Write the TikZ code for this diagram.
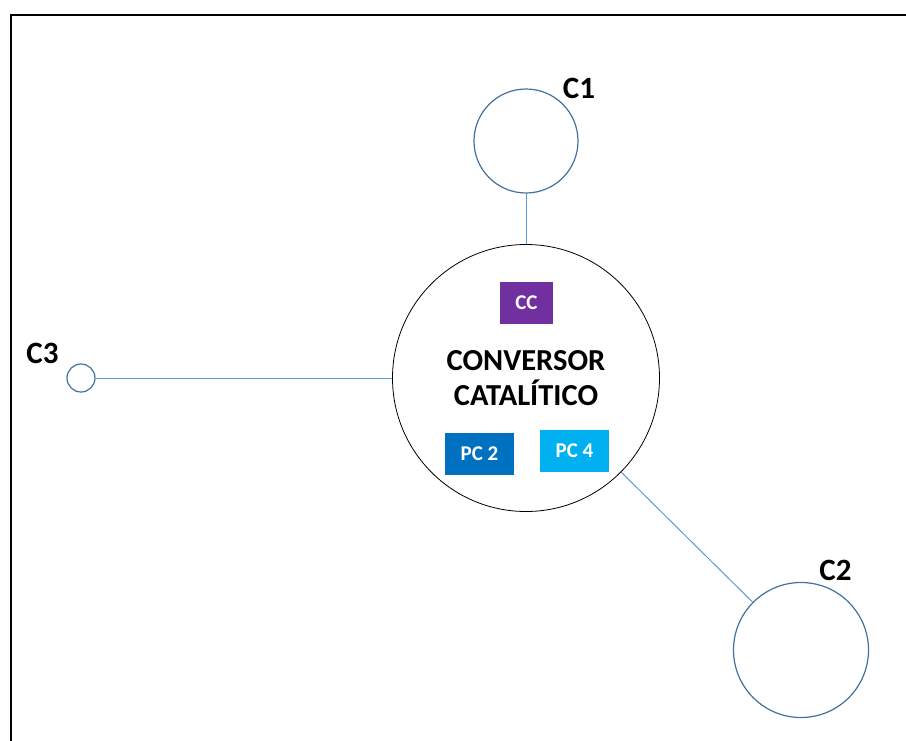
\documentclass[tikz,border=0pt]{standalone}
\usepackage{fontspec}
\setmainfont{Carlito}
\usetikzlibrary{positioning}
\definecolor{ringBlue}{HTML}{41719C}
\definecolor{linkBlue}{HTML}{5B9BD5}
\definecolor{ccPurple}{HTML}{7030A0}
\definecolor{pcDark}{HTML}{0070C0}
\definecolor{pcLight}{HTML}{00B0F0}

\begin{document}
\begin{tikzpicture}[x=1pt,y=-1pt]
	%defines
	\tikzstyle{converter} = [circle, draw=black, line width=0.8pt, minimum size=267pt, inner sep=0pt, align=center, font=\fontsize{30.5}{35}\selectfont\bfseries]
	\tikzstyle{chamber} = [circle, draw=ringBlue, line width=1.2pt, inner sep=0pt]
	\tikzstyle{tag} = [rectangle, minimum height=42pt, inner sep=0pt, text=white, font=\fontsize{21}{24}\selectfont\bfseries]
	\tikzstyle{label} = [font=\fontsize{31}{34}\selectfont\bfseries]
	\tikzstyle{link} = [linkBlue, line width=1pt]
	\useasboundingbox (0,0) rectangle (906,740);
	\clip (0,0) rectangle (906,740);
	\draw [line width=2pt] (11,15) rectangle (930,760);
	%chart
	\node (conversor) [converter] at (526,378) {CONVERSOR\\CATAL\'ITICO};
	\node (c1) [chamber, minimum size=104pt] at (526,141) {};
	\node (c2) [chamber, minimum size=135pt] at (801,650) {};
	\node (c3) [chamber, minimum size=28pt] at (81,378) {};
	\node (cc) [tag, fill=ccPurple, minimum width=53pt] at (526.5,303) {CC};
	\node (pc2) [tag, fill=pcDark, minimum width=69pt] at (479.5,454) {PC 2};
	\node (pc4) [tag, fill=pcLight, minimum width=69pt] at (574.5,451) {PC 4};
	\node (lc1) [label] at (579,88) {C1};
	\node (lc2) [label] at (835.5,570) {C2};
	\node (lc3) [label] at (42.5,353) {C3};
	\draw [link] (c1) -- (conversor);
	\draw [link] (c3) -- (conversor);
	\draw [link] (conversor) -- (c2);
\end{tikzpicture}
\end{document}
